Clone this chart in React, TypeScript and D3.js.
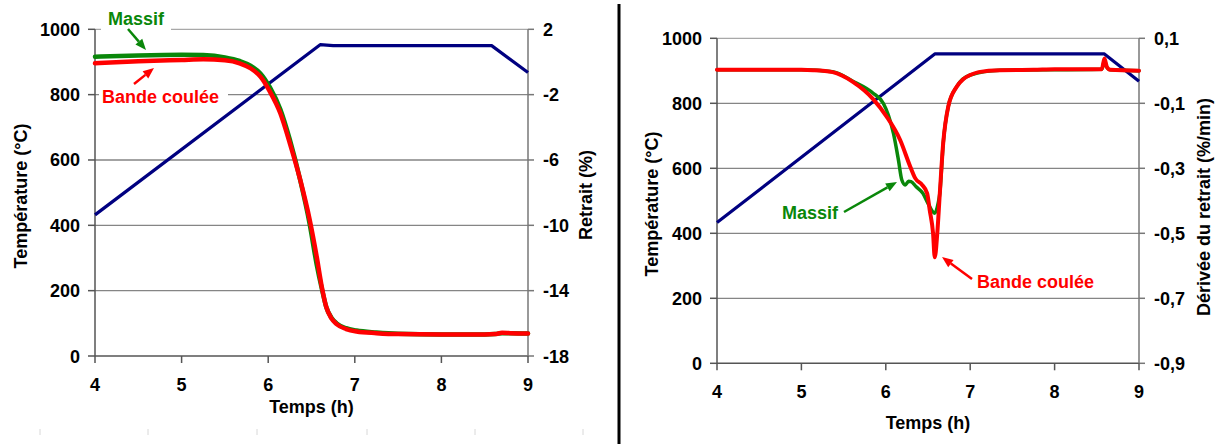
import React from "react";
import * as d3 from "d3";

// ---------- shared ticks ----------
const hourTicks = [4, 5, 6, 7, 8, 9];
const tempTicks = [0, 200, 400, 600, 800, 1000];
const retraitTicks = [2, -2, -6, -10, -14, -18];
const deriveeTicks = [0.1, -0.1, -0.3, -0.5, -0.7, -0.9];

// ---------- left chart: retrait (%) ----------
const leftTempHours = [4, 6.6, 6.75, 8.58, 9];
const leftTempValues = [432, 953, 950, 950, 868];

const leftHours = [4, 4.5, 5, 5.25, 5.5, 5.67, 5.8, 5.91, 6.02, 6.14, 6.25, 6.37, 6.48, 6.56, 6.62, 6.67, 6.73, 6.79, 6.9, 7.02, 7.25, 7.5, 8, 8.5, 8.62, 8.7, 8.8, 9];
const leftMassif = [0.32, 0.4, 0.44, 0.42, 0.28, 0.06, -0.24, -0.7, -1.56, -2.9, -4.76, -7.24, -9.95, -12.4, -13.9, -15.0, -15.65, -16.0, -16.3, -16.44, -16.56, -16.64, -16.68, -16.68, -16.66, -16.6, -16.6, -16.62];
const leftBande = [-0.08, 0.04, 0.12, 0.16, 0.1, -0.08, -0.4, -0.9, -1.82, -3.14, -4.98, -7.22, -9.68, -11.92, -13.8, -15.0, -15.7, -16.05, -16.35, -16.5, -16.6, -16.66, -16.68, -16.68, -16.66, -16.58, -16.6, -16.62];

// ---------- right chart: dérivée du retrait (%/min) ----------
const rightTempHours = [4, 6.58, 8.59, 9];
const rightTempValues = [433, 952, 952, 868];

const rightBandeHours = [4, 4.5, 5, 5.14, 5.37, 5.61, 5.85, 6.01, 6.17, 6.29, 6.35, 6.43, 6.49, 6.52, 6.56, 6.58, 6.61, 6.64, 6.68, 6.74, 6.84, 6.92, 7.0, 7.1, 7.35, 7.75, 8.0, 8.56, 8.59, 8.62, 8.66, 9];
const rightBande = [0.003, 0.003, 0.003, 0.002, -0.004, -0.034, -0.087, -0.141, -0.213, -0.295, -0.331, -0.351, -0.377, -0.428, -0.5, -0.574, -0.5, -0.377, -0.223, -0.11, -0.049, -0.025, -0.013, -0.004, 0.002, 0.003, 0.005, 0.005, 0.038, 0.012, 0.003, 0.0];

const rightMassifHours = [4, 5, 5.37, 5.61, 5.85, 5.97, 6.03, 6.09, 6.15, 6.19, 6.23, 6.27, 6.3, 6.36, 6.44, 6.5, 6.58, 6.62, 6.64, 6.68, 6.74, 6.84, 7.0, 7.35, 8.56, 8.59, 8.62, 8.66, 9];
const rightMassif = [0.003, 0.003, -0.003, -0.032, -0.069, -0.1, -0.136, -0.192, -0.275, -0.336, -0.351, -0.34, -0.341, -0.357, -0.377, -0.408, -0.438, -0.408, -0.377, -0.223, -0.11, -0.049, -0.013, 0.002, 0.005, 0.03, 0.01, 0.003, 0.0];

const FONT = "'Liberation Sans', Arial, Helvetica, sans-serif";
const RED = "#ff0000";
const GREEN = "#0a870a";
const BLUE = "#000080";

function zip(xs: number[], ys: number[]): [number, number][] {
  return xs.map((x, i) => [x, ys[i]] as [number, number]);
}

function Arrow({ x1, y1, x2, y2, color }: { x1: number; y1: number; x2: number; y2: number; color: string }) {
  const ang = Math.atan2(y2 - y1, x2 - x1);
  const L = 11, W = 4.5;
  const bx = x2 - L * Math.cos(ang), by = y2 - L * Math.sin(ang);
  const px = -Math.sin(ang) * W, py = Math.cos(ang) * W;
  return (
    <g>
      <line x1={x1} y1={y1} x2={bx} y2={by} stroke={color} strokeWidth={2.5} />
      <polygon points={`${x2},${y2} ${bx + px},${by + py} ${bx - px},${by - py}`} fill={color} />
    </g>
  );
}

type PanelProps = {
  x0: number; x1: number; yTop: number; yBot: number;
  rightTicks: number[]; rightDomain: [number, number]; rightFmt: (v: number) => string;
  tempHours: number[]; tempValues: number[];
  massif: [number, number][]; bande: [number, number][];
  leftTitleX: number; rightTitleX: number; titleY: number; rightTitle: string;
  rightTitleY: number;
  tickLabelY: number; xTitleY: number;
  rightLabelX: number;
  widths: { red: number; green: number; blue: number };
  children?: React.ReactNode;
};

function Panel(p: PanelProps) {
  const x = d3.scaleLinear().domain([4, 9]).range([p.x0, p.x1]);
  const yT = d3.scaleLinear().domain([0, 1000]).range([p.yBot, p.yTop]);
  const yR = d3.scaleLinear().domain(p.rightDomain).range([p.yBot, p.yTop]);
  const tempLine = d3.line<[number, number]>().x(d => x(d[0])).y(d => yT(d[1]));
  const rLine = d3.line<[number, number]>().x(d => x(d[0])).y(d => yR(d[1])).curve(d3.curveMonotoneX);
  const textStyle = { fontFamily: FONT, fontWeight: 700, fontSize: 18 } as const;
  return (
    <g>
      {/* grid */}
      {tempTicks.filter(t => t > 0).map(t => (
        <line key={t} x1={p.x0} x2={p.x1} y1={yT(t)} y2={yT(t)} stroke={t === 1000 ? "#a8a8a8" : "#858585"} strokeWidth={1.3} />
      ))}
      {/* axes */}
      <line x1={p.x0} x2={p.x0} y1={p.yTop} y2={p.yBot} stroke="#555" strokeWidth={1.5} />
      <line x1={p.x0} x2={p.x1} y1={p.yBot} y2={p.yBot} stroke="#555" strokeWidth={1.5} />
      <line x1={p.x1} x2={p.x1} y1={p.yTop} y2={p.yBot} stroke="#777" strokeWidth={1.5} />
      {tempTicks.map(t => (
        <g key={"lt" + t}>
          <line x1={p.x0 - 7} x2={p.x0} y1={yT(t)} y2={yT(t)} stroke="#555" strokeWidth={1.5} />
          <text x={p.x0 - 15} y={yT(t) + 6.5} textAnchor="end" style={textStyle}>{t}</text>
        </g>
      ))}
      {p.rightTicks.map(t => (
        <g key={"rt" + t}>
          <line x1={p.x1} x2={p.x1 + 6} y1={yR(t)} y2={yR(t)} stroke="#777" strokeWidth={1.5} />
          <text x={p.rightLabelX} y={yR(t) + 6.5} textAnchor="start" style={textStyle}>{p.rightFmt(t)}</text>
        </g>
      ))}
      {hourTicks.map(h => (
        <g key={"h" + h}>
          <line x1={x(h)} x2={x(h)} y1={p.yBot} y2={p.yBot + 7} stroke="#555" strokeWidth={1.5} />
          <text x={x(h)} y={p.tickLabelY} textAnchor="middle" style={textStyle}>{h}</text>
        </g>
      ))}
      {/* titles */}
      <text transform={`translate(${p.leftTitleX},${p.titleY}) rotate(-90)`} dy="0.35em" textAnchor="middle" style={textStyle}>Température (°C)</text>
      <text transform={`translate(${p.rightTitleX},${p.rightTitleY}) rotate(-90)`} dy="0.35em" textAnchor="middle" style={textStyle}>{p.rightTitle}</text>
      <text x={(p.x0 + p.x1) / 2} y={p.xTitleY} textAnchor="middle" style={textStyle}>Temps (h)</text>
      {/* series */}
      <path d={tempLine(zip(p.tempHours, p.tempValues)) || ""} fill="none" stroke={BLUE} strokeWidth={p.widths.blue} strokeLinejoin="round" />
      <path d={rLine(p.massif) || ""} fill="none" stroke={GREEN} strokeWidth={p.widths.green} strokeLinejoin="round" strokeLinecap="round" />
      <path d={rLine(p.bande) || ""} fill="none" stroke={RED} strokeWidth={p.widths.red} strokeLinejoin="round" strokeLinecap="round" />
      {p.children}
    </g>
  );
}

const commaFmt = (v: number) => d3.format(".1f")(v).replace(".", ",").replace("−", "-");
const intFmt = (v: number) => String(v);

export default function App() {
  const annStyle = { fontFamily: FONT, fontWeight: 700, fontSize: 18 } as const;
  const faintTicks = [40, 148, 257, 367, 475, 583];
  return (
    <svg width={1220} height={444} style={{ position: "absolute", left: 0, top: 0, background: "#fff" }}>
      <rect x={0} y={0} width={1220} height={444} fill="#fff" />
      {faintTicks.map(fx => (
        <line key={fx} x1={fx} x2={fx} y1={429} y2={435} stroke="#d8d8d8" strokeWidth={1} />
      ))}
      <Panel
        x0={95} x1={528} yTop={29.3} yBot={356}
        rightTicks={retraitTicks} rightDomain={[-18, 2]} rightFmt={intFmt}
        tempHours={leftTempHours} tempValues={leftTempValues}
        massif={zip(leftHours, leftMassif)} bande={zip(leftHours, leftBande)}
        leftTitleX={21} rightTitleX={586} titleY={196} rightTitleY={195} rightTitle="Retrait (%)"
        tickLabelY={391} xTitleY={413} rightLabelX={543}
        widths={{ red: 4.5, green: 4.5, blue: 3.2 }}
      >
        <rect x={101} y={8} width={70} height={26} fill="#fff" />
        <text x={108} y={25} style={annStyle} fill={GREEN}>Massif</text>
        <Arrow x1={128} y1={29} x2={146} y2={50} color={GREEN} />
        <rect x={99} y={85} width={129} height={20} fill="#fff" />
        <text x={102} y={102.5} style={annStyle} fill={RED}>Bande coulée</text>
        <Arrow x1={134} y1={84} x2={154} y2={68} color={RED} />
      </Panel>
      <line x1={619} x2={619} y1={4} y2={444} stroke="#000" strokeWidth={3} />
      <Panel
        x0={717} x1={1139} yTop={38.3} yBot={363.3}
        rightTicks={deriveeTicks} rightDomain={[-0.9, 0.1]} rightFmt={commaFmt}
        tempHours={rightTempHours} tempValues={rightTempValues}
        massif={zip(rightMassifHours, rightMassif)} bande={zip(rightBandeHours, rightBande)}
        leftTitleX={652} rightTitleX={1204} titleY={204} rightTitleY={207} rightTitle="Dérivée du retrait (%/min)"
        tickLabelY={398} xTitleY={429} rightLabelX={1154}
        widths={{ red: 4, green: 3.5, blue: 3.2 }}
      >
        <text x={782} y={219} style={annStyle} fill={GREEN}>Massif</text>
        <Arrow x1={844} y1={212} x2={897} y2={182} color={GREEN} />
        <text x={977} y={288} style={annStyle} fill={RED}>Bande coulée</text>
        <Arrow x1={972} y1={279} x2={942} y2={257} color={RED} />
      </Panel>
    </svg>
  );
}
